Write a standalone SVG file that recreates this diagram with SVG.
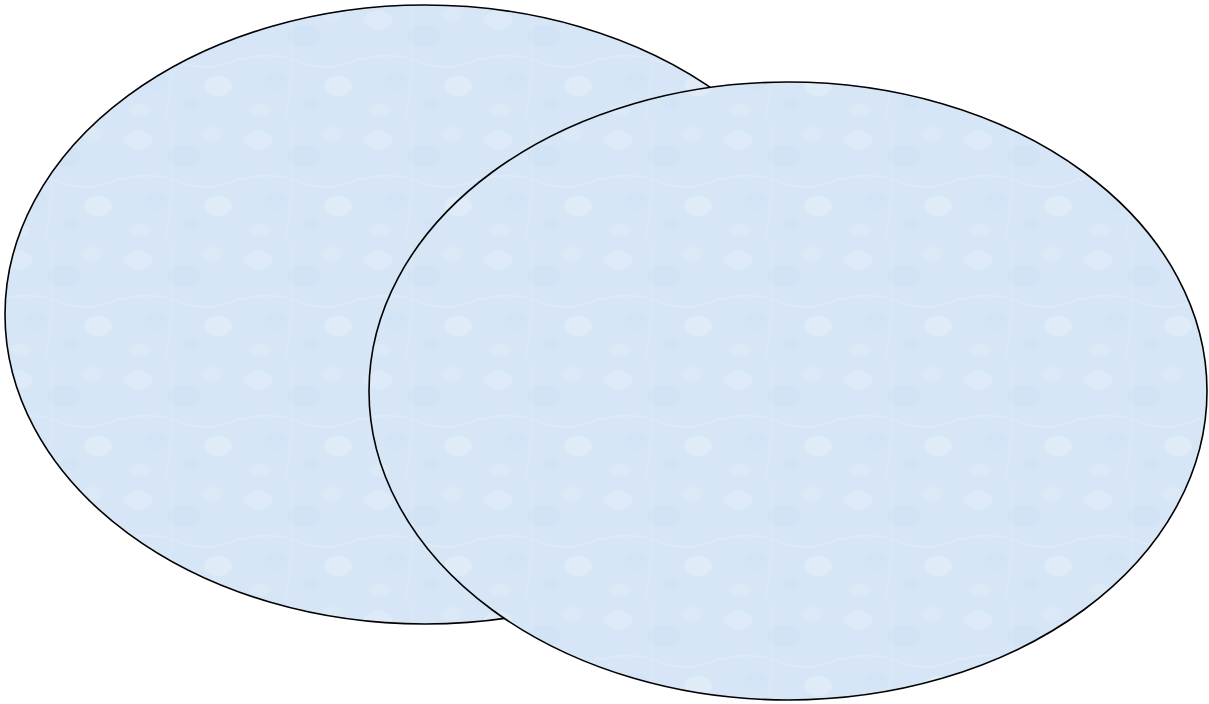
<svg xmlns="http://www.w3.org/2000/svg" width="1209" height="704" viewBox="0 0 1209 704">
<defs>
<pattern id="tex" x="0" y="0" width="120" height="120" patternUnits="userSpaceOnUse">
<rect width="120" height="120" fill="#d7e6f6"/>
<ellipse cx="18" cy="20" rx="14" ry="9" fill="#e3edf9" opacity="0.6"/>
<ellipse cx="64" cy="36" rx="16" ry="11" fill="#cde0f4" opacity="0.5"/>
<ellipse cx="98" cy="86" rx="14" ry="10" fill="#e4eef9" opacity="0.6"/>
<ellipse cx="36" cy="82" rx="12" ry="9" fill="#cee1f4" opacity="0.5"/>
<ellipse cx="92" cy="14" rx="10" ry="7" fill="#e0ebf8" opacity="0.5"/>
<ellipse cx="20" cy="110" rx="10" ry="6" fill="#e0ebf8" opacity="0.5"/>
<ellipse cx="70" cy="104" rx="9" ry="7" fill="#d0e2f5" opacity="0.5"/>
<path d="M0 60 Q30 50 60 62 T120 58" stroke="#e4edf9" stroke-width="1.5" fill="none" opacity="0.5"/>
<path d="M50 0 Q56 50 46 120" stroke="#e2ecf8" stroke-width="1.2" fill="none" opacity="0.4"/>
</pattern>
<style>
.shape{fill:url(#tex);stroke:#000;stroke-width:1.6}
</style>
</defs>
<rect width="1209" height="704" fill="#fff"/>
<g id="ellipse-left"><ellipse class="shape" cx="425" cy="314.5" rx="420" ry="309.5"/></g>
<g id="ellipse-right"><ellipse class="shape" cx="788" cy="391" rx="419" ry="309"/></g>
<g id="connectors"></g>
</svg>
